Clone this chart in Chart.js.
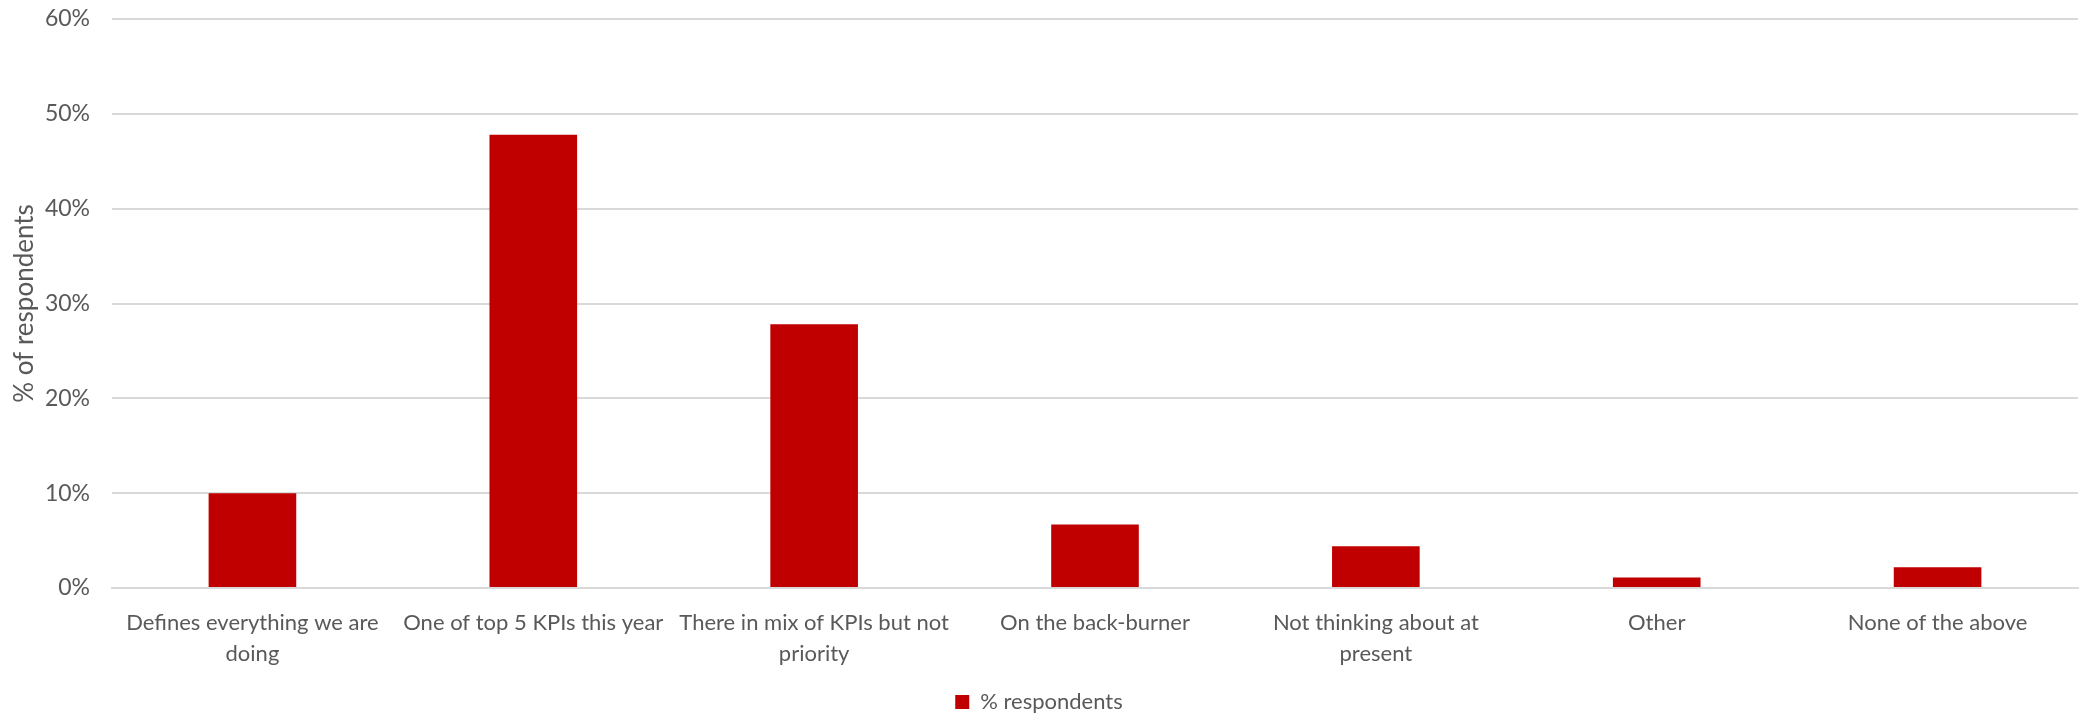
<!DOCTYPE html>
<html>
<head>
<meta charset="utf-8">
<script src="https://cdn.jsdelivr.net/npm/chart.js@4/dist/chart.umd.min.js"></script>
<style>
  html, body { margin: 0; padding: 0; background: #fff; }
  #wrap { width: 2081px; height: 715px; }
</style>
</head>
<body>
<div id="wrap"><canvas id="chart"></canvas></div>
<script>
const categories = [
  ['Defines everything we are', 'doing'],
  'One of top 5 KPIs this year',
  ['There in mix of KPIs but not', 'priority'],
  'On the back-burner',
  ['Not thinking about at', 'present'],
  'Other',
  'None of the above'
];
const respondents = [10, 47.8, 27.8, 6.7, 4.4, 1.1, 2.2];
const yTicks = [0, 10, 20, 30, 40, 50, 60];

const textColor = '#595959';
const gridColor = '#d9d9d9';
const barColor = '#c00000';

const ctx = document.getElementById('chart').getContext('2d');

new Chart(ctx, {
  type: 'bar',
  data: {
    labels: categories,
    datasets: [
      {
        label: '% respondents',
        data: respondents,
        backgroundColor: barColor,
        borderWidth: 0,
        barPercentage: 0.312,
        categoryPercentage: 1
      }
    ]
  },
  options: {
    responsive: true,
    maintainAspectRatio: false,
    animation: false,
    layout: {
      padding: { top: 19, right: 3, bottom: -8, left: 0 }
    },
    plugins: {
      tooltip: { enabled: false },
      legend: {
        position: 'bottom',
        labels: {
          color: textColor,
          font: { family: 'Lato', size: 22 },
          boxWidth: 14,
          boxHeight: 14,
          padding: 3
        }
      }
    },
    scales: {
      x: {
        grid: { display: false },
        border: { color: gridColor, width: 2 },
        ticks: {
          color: textColor,
          font: { family: 'Lato', size: 22, lineHeight: 1.4 },
          maxRotation: 0,
          autoSkip: false,
          padding: 12
        },
        afterFit(scale) {
          scale.height = 100;
          scale.paddingLeft = 0;
          scale.paddingRight = 0;
        }
      },
      y: {
        min: 0,
        max: 60,
        afterBuildTicks(scale) {
          scale.ticks = yTicks.map(v => ({ value: v }));
        },
        grid: { color: gridColor, lineWidth: 2, drawTicks: false },
        border: { display: false },
        ticks: {
          color: textColor,
          font: { family: 'Lato', size: 23 },
          padding: 22,
          callback: v => v + '%'
        },
        title: {
          display: true,
          text: '% of respondents',
          color: textColor,
          font: { family: 'Lato', size: 26 },
          padding: { top: 9, bottom: 0 }
        },
        afterFit(scale) {
          scale.width = 112;
          scale.paddingTop = 0;
          scale.paddingBottom = 0;
        }
      }
    }
  }
});
</script>
</body>
</html>
